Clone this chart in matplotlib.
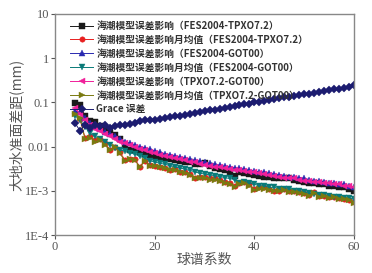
import matplotlib
matplotlib.use("Agg")
import matplotlib.pyplot as plt
import numpy as np

degrees = list(range(4, 61))

grace = [0.034, 0.023, 0.031, 0.026, 0.030, 0.029, 0.031, 0.027, 0.029, 0.030,
         0.031, 0.032, 0.034, 0.037, 0.039, 0.040, 0.041, 0.043, 0.045, 0.047,
         0.049, 0.050, 0.052, 0.055, 0.058, 0.060, 0.063, 0.066, 0.069, 0.072,
         0.075, 0.079, 0.082, 0.086, 0.090, 0.094, 0.100, 0.104, 0.109, 0.114,
         0.119, 0.124, 0.129, 0.134, 0.140, 0.146, 0.152, 0.158, 0.165, 0.172,
         0.180, 0.188, 0.196, 0.205, 0.215, 0.228, 0.245]

fes_tpxo = [0.098, 0.085, 0.050, 0.037, 0.036, 0.029, 0.026, 0.021, 0.018, 0.015,
            0.011, 0.0085, 0.0088, 0.0075, 0.0068, 0.0065, 0.0060, 0.0058, 0.0055, 0.0052,
            0.0050, 0.0048, 0.0046, 0.0044, 0.0041, 0.0040, 0.0042, 0.0036, 0.0033, 0.0031,
            0.0029, 0.0027, 0.0022, 0.0026, 0.0025, 0.0024, 0.0023, 0.0022, 0.0021, 0.0021,
            0.0020, 0.0019, 0.0019, 0.0019, 0.0018, 0.0017, 0.0016, 0.0015, 0.0015, 0.0014,
            0.0014, 0.0013, 0.0013, 0.0012, 0.0012, 0.0011, 0.0010]

fes_tpxo_month = [0.058, 0.042, 0.016, 0.017, 0.014, 0.015, 0.012, 0.0085, 0.010, 0.0075,
                  0.0050, 0.0053, 0.0052, 0.0035, 0.0048, 0.0038, 0.0037, 0.0035, 0.0033, 0.0030,
                  0.0031, 0.0027, 0.0026, 0.0024, 0.0020, 0.0021, 0.0021, 0.0019, 0.0019, 0.0018,
                  0.0016, 0.0015, 0.0013, 0.0015, 0.0016, 0.0014, 0.0011, 0.0012, 0.0012, 0.0011,
                  0.0010, 0.0010, 0.0011, 0.0010, 0.0010, 0.00093, 0.00088, 0.00080, 0.00092, 0.00075,
                  0.00078, 0.00072, 0.00074, 0.00068, 0.00066, 0.00063, 0.00055]

fes_got = [0.065, 0.060, 0.045, 0.034, 0.028, 0.025, 0.021, 0.019, 0.017, 0.015,
           0.013, 0.012, 0.011, 0.010, 0.0093, 0.0087, 0.0080, 0.0074, 0.0069, 0.0066,
           0.0062, 0.0058, 0.0055, 0.0052, 0.0049, 0.0047, 0.0044, 0.0042, 0.0040, 0.0038,
           0.0036, 0.0035, 0.0033, 0.0032, 0.0031, 0.0029, 0.0028, 0.0027, 0.0026, 0.0025,
           0.0024, 0.0023, 0.0022, 0.0021, 0.0021, 0.0020, 0.0019, 0.0018, 0.0017, 0.0017,
           0.0016, 0.0015, 0.0015, 0.0014, 0.0014, 0.0013, 0.0012]

fes_got_month = [0.050, 0.040, 0.028, 0.020, 0.017, 0.015, 0.013, 0.011, 0.0095, 0.0085,
                 0.0078, 0.0072, 0.0068, 0.0060, 0.0055, 0.0048, 0.0045, 0.0042, 0.0040, 0.0037,
                 0.0035, 0.0033, 0.0031, 0.0029, 0.0027, 0.0025, 0.0024, 0.0023, 0.0022, 0.0021,
                 0.0020, 0.0019, 0.0018, 0.0015, 0.0016, 0.0015, 0.0014, 0.0013, 0.0013, 0.0012,
                 0.0012, 0.0011, 0.0011, 0.0011, 0.0010, 0.00098, 0.00093, 0.00088, 0.00085, 0.00082,
                 0.00079, 0.00076, 0.00074, 0.00072, 0.00070, 0.00068, 0.00065]

tpxo_got = [0.075, 0.055, 0.040, 0.031, 0.025, 0.022, 0.019, 0.017, 0.015, 0.013,
            0.012, 0.011, 0.0098, 0.0090, 0.0082, 0.0076, 0.0070, 0.0066, 0.0062, 0.0058,
            0.0055, 0.0052, 0.0049, 0.0046, 0.0044, 0.0041, 0.0039, 0.0037, 0.0035, 0.0034,
            0.0032, 0.0031, 0.0030, 0.0029, 0.0028, 0.0027, 0.0026, 0.0025, 0.0024, 0.0023,
            0.0022, 0.0021, 0.0020, 0.0020, 0.0019, 0.0018, 0.0017, 0.0017, 0.0016, 0.0016,
            0.0015, 0.0015, 0.0014, 0.0014, 0.0013, 0.0013, 0.0012]

tpxo_got_month = [0.055, 0.045, 0.015, 0.016, 0.013, 0.014, 0.011, 0.0082, 0.0098, 0.0070,
                  0.0048, 0.0052, 0.0050, 0.0034, 0.0047, 0.0037, 0.0036, 0.0034, 0.0032, 0.0029,
                  0.0030, 0.0026, 0.0025, 0.0023, 0.0019, 0.0020, 0.0020, 0.0018, 0.0018, 0.0017,
                  0.0015, 0.0014, 0.0012, 0.0014, 0.0015, 0.0013, 0.00105, 0.0011, 0.0011, 0.00105,
                  0.00098, 0.00098, 0.00105, 0.00095, 0.00095, 0.00090, 0.00085, 0.00078, 0.00090, 0.00073,
                  0.00076, 0.00070, 0.00072, 0.00066, 0.00064, 0.00061, 0.00054]

labels = ["海潮模型误差影响（FES2004-TPXO7.2）",
          "海潮模型误差影响月均值（FES2004-TPXO7.2）",
          "海潮模型误差影响（FES2004-GOT00）",
          "海潮模型误差影响月均值（FES2004-GOT00）",
          "海潮模型误差影响（TPXO7.2-GOT00）",
          "海潮模型误差影响月均值（TPXO7.2-GOT00）",
          "Grace 误差"]

xticks = [0, 20, 40, 60]
yticks = [1e-4, 1e-3, 1e-2, 1e-1, 1, 10]
ytick_labels = ["1E-4", "1E-3", "0.01", "0.1", "1", "10"]

plt.rcParams['font.family'] = ['Liberation Serif', 'Noto Sans CJK SC']

fig = plt.figure(figsize=(3.72, 2.73), dpi=100)
ax = fig.add_axes([0.148, 0.139, 0.804, 0.810])

series = [
    (fes_tpxo, '#1a1a1a', 's'),
    (fes_tpxo_month, '#e82020', 'o'),
    (fes_got, '#2a2ab0', '^'),
    (fes_got_month, '#0a7a78', 'v'),
    (tpxo_got, '#f0209a', '<'),
    (tpxo_got_month, '#7a7a10', '>'),
    (grace, '#1c1c70', 'D'),
]
for (vals, col, mk), lab in zip(series, labels):
    ax.plot(degrees, vals, color=col, marker=mk, markersize=3.9, linewidth=0.7,
            markeredgewidth=0.3, label=lab)

ax.set_yscale('log')
ax.set_xlim(0, 60)
ax.set_ylim(1e-4, 10)
ax.set_xticks(xticks)
ax.set_yticks(yticks)
ax.set_yticklabels(ytick_labels)
ax.minorticks_off()
ax.tick_params(axis='both', labelsize=9, colors='#555555', length=3, width=0.8, direction='out', pad=1)
for s in ax.spines.values():
    s.set_color('#888888')
    s.set_linewidth(1.0)

ax.set_xlabel("球谱系数", fontsize=10, color='#555555', family=['Noto Sans CJK SC'], labelpad=0)
ax.set_ylabel("大地水准面差距(mm)", fontsize=10, color='#555555', family=['Noto Sans CJK SC'], labelpad=1)

leg = ax.legend(loc='upper left', frameon=False, handlelength=2.3,
                handletextpad=0.35, labelspacing=0.40, borderaxespad=0.1,
                bbox_to_anchor=(0.035, 0.99),
                prop={'family': ['Noto Sans CJK SC'], 'size': 7.0, 'weight': 'bold'})
for t in leg.get_texts():
    t.set_color('#333333')

fig.savefig("out.png", dpi=100)
